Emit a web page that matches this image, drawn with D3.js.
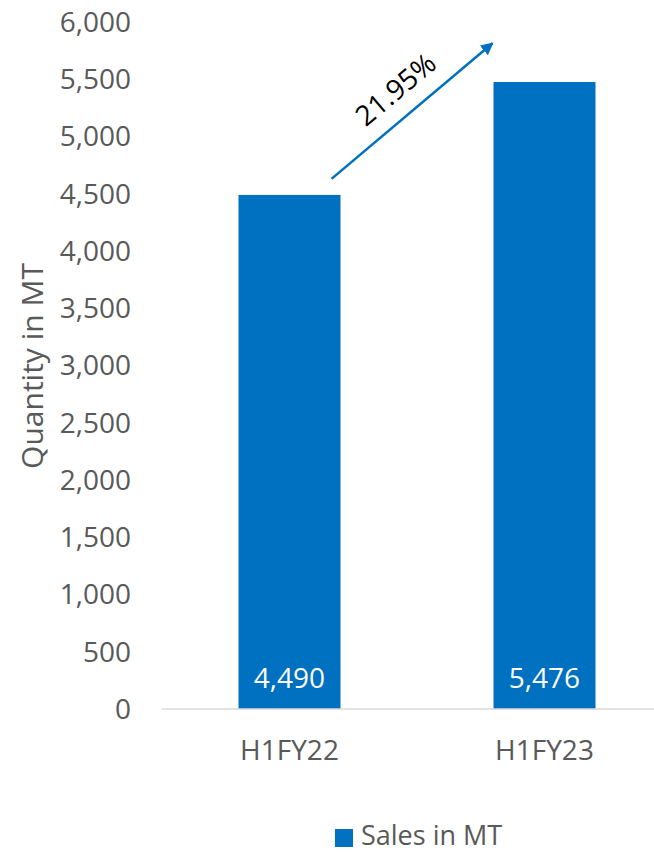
<!DOCTYPE html>
<html>
<head>
<meta charset="utf-8">
<script src="https://cdn.jsdelivr.net/npm/d3@7"></script>
<style>
  body { margin: 0; background: #fff; }
  svg { font-family: "Open Sans", sans-serif; }
</style>
</head>
<body>
<svg id="chart" width="654" height="852"></svg>
<script>
const categories = ["H1FY22", "H1FY23"];
const sales = [4490, 5476];
const yTicks = [0, 500, 1000, 1500, 2000, 2500, 3000, 3500, 4000, 4500, 5000, 5500, 6000];
const growthLabel = "21.95%";
const seriesName = "Sales in MT";
const yTitle = "Quantity in MT";

const svg = d3.select("#chart");
const blue = "#0070C0", grey = "#595959";
const fmt = d3.format(",");

const x = d3.scaleBand().domain(categories).range([162, 672]).paddingInner(0.6).paddingOuter(0.3);
const y = d3.scaleLinear().domain([0, 6000]).range([709, 22]);

// y tick labels
svg.append("g").selectAll("text").data(yTicks).join("text")
  .attr("x", 131).attr("y", d => y(d)).attr("dy", "0.35em")
  .attr("text-anchor", "end").attr("font-size", 28).attr("fill", grey)
  .text(fmt);

// axis title
svg.append("text")
  .attr("transform", `translate(43,366) rotate(-90)`)
  .attr("text-anchor", "middle").attr("font-size", 30).attr("fill", grey)
  .text(yTitle);

// bars
svg.append("g").selectAll("rect").data(sales).join("rect")
  .attr("x", (d, i) => x(categories[i])).attr("width", x.bandwidth())
  .attr("y", d => y(d)).attr("height", d => y(0) - y(d))
  .attr("fill", blue);

// value labels
svg.append("g").selectAll("text").data(sales).join("text")
  .attr("x", (d, i) => x(categories[i]) + x.bandwidth() / 2).attr("y", y(0) - 31)
  .attr("dy", "0.35em").attr("text-anchor", "middle")
  .attr("font-size", 28).attr("fill", "#fff")
  .text(fmt);

// x axis line
svg.append("line").attr("x1", 162).attr("x2", 654).attr("y1", y(0)).attr("y2", y(0))
  .attr("stroke", "#d9d9d9").attr("stroke-width", 1.5);

// category labels
svg.append("g").selectAll("text").data(categories).join("text")
  .attr("x", d => x(d) + x.bandwidth() / 2).attr("y", 750).attr("dy", "0.35em")
  .attr("text-anchor", "middle").attr("font-size", 28).attr("fill", grey)
  .text(d => d);

// growth arrow
svg.append("defs").append("marker").attr("id", "ah")
  .attr("viewBox", "0 0 10 10").attr("refX", 9).attr("refY", 5)
  .attr("markerWidth", 5).attr("markerHeight", 5).attr("markerUnits", "strokeWidth")
  .attr("orient", "auto")
  .append("path").attr("d", "M0,0L10,5L0,10z").attr("fill", blue);

const x0 = x(categories[0]) + x.bandwidth() - 9, y0 = y(sales[0] + 140);
const x1 = x(categories[1]) - 1, y1 = y(5815);
svg.append("line").attr("x1", x0).attr("y1", y0).attr("x2", x1).attr("y2", y1)
  .attr("stroke", blue).attr("stroke-width", 2.5).attr("marker-end", "url(#ah)");
const ang = Math.atan2(y1 - y0, x1 - x0) * 180 / Math.PI;
svg.append("text")
  .attr("transform", `translate(${(x0 + x1) / 2 - 10},${(y0 + y1) / 2 - 14}) rotate(${ang})`)
  .attr("text-anchor", "middle").attr("font-size", 28).attr("fill", "#000")
  .text(growthLabel);

// legend
svg.append("rect").attr("x", 335).attr("y", 829).attr("width", 18).attr("height", 18).attr("fill", blue);
svg.append("text").attr("x", 361).attr("y", 845).attr("font-size", 27).attr("fill", grey).text(seriesName);
</script>
</body>
</html>
